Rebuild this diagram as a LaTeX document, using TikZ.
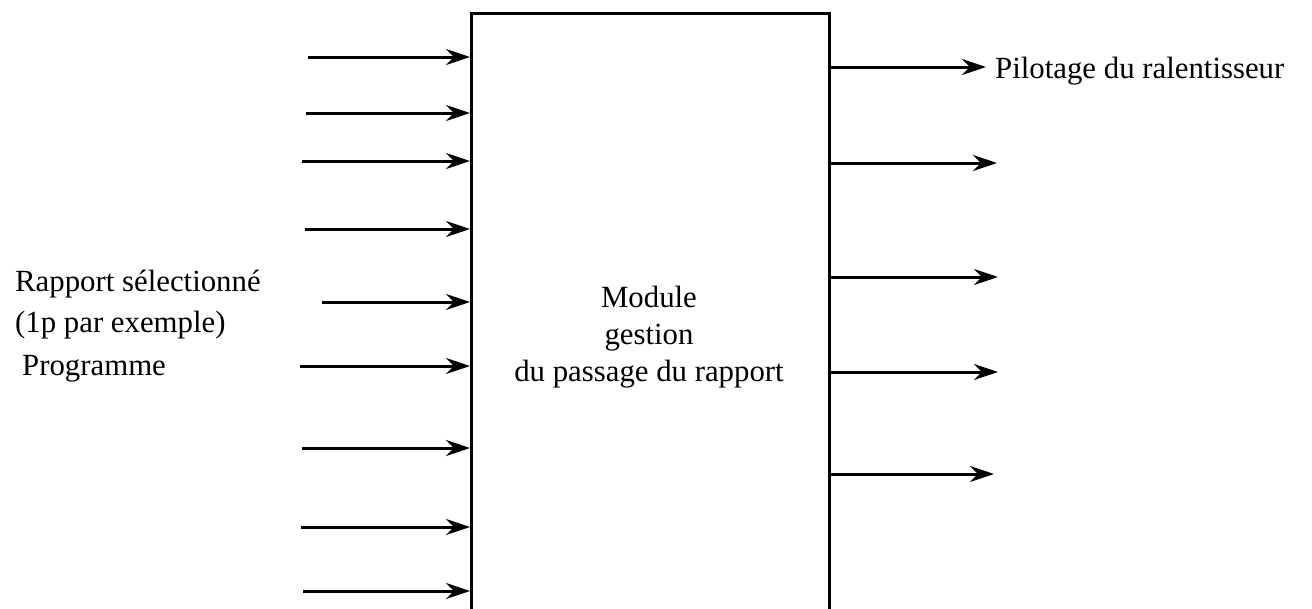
\documentclass[tikz,border=0pt]{standalone}
\usepackage{fontspec}
\setmainfont{Liberation Serif}
\usetikzlibrary{arrows.meta}
\begin{document}
\begin{tikzpicture}[x=1pt,y=-1pt,
  conn/.style={line width=3pt,-{Stealth[length=24pt,width=16pt,inset=8pt]}},
  lbl/.style={inner sep=0pt,font=\fontsize{30.8}{37}\selectfont},
  boxstyle/.style={draw,line width=3pt,rectangle,inner sep=0pt}]
\useasboundingbox[fill=white] (0,0) rectangle (1312,608);
% box (bottom edge lies below the page)
\node[boxstyle,minimum width=358pt,minimum height=640pt,anchor=north west] (box) at (470,12) {};
% central text
\node[lbl,anchor=base] (t1) at (649,307) {Module};
\node[lbl,anchor=base] (t2) at (649,344) {gestion};
\node[lbl,anchor=base] (t3) at (649,381) {du passage du rapport};
% input starts
\coordinate (i1) at (308,57);
\coordinate (i2) at (306,113);
\coordinate (i3) at (302,161);
\coordinate (i4) at (305,229);
\coordinate (i5) at (322,302);
\coordinate (i6) at (300,366);
\coordinate (i7) at (302,448);
\coordinate (i8) at (301,527);
\coordinate (i9) at (303,591);
\foreach \k in {1,...,9}{\draw[conn] (i\k) -- (box.west |- i\k);}
% input labels
\node[lbl,anchor=base west] (l1) at (15,291) {Rapport sélectionné};
\node[lbl,anchor=base west] (l2) at (15,332) {(1p par exemple)};
\node[lbl,anchor=base west] (l3) at (22,375) {Programme};
% outputs
\coordinate (o1) at (986,67);
\coordinate (o2) at (997,163);
\coordinate (o3) at (998,277);
\coordinate (o4) at (998,372);
\coordinate (o5) at (994,474);
\foreach \k in {1,...,5}{\draw[conn] (box.east |- o\k) -- (o\k);}
\node[lbl,anchor=base west] (p1) at (995,78) {Pilotage du ralentisseur};
\end{tikzpicture}
\end{document}
